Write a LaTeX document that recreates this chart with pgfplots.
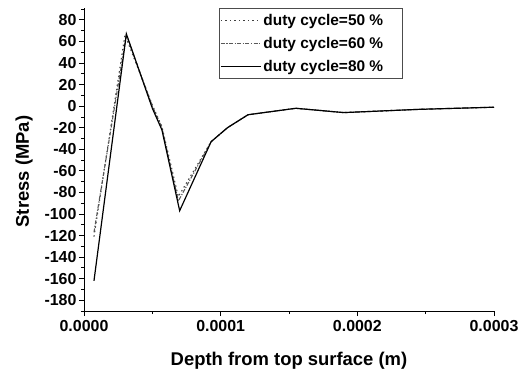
\documentclass[border=0pt]{standalone}
\usepackage{fontspec}
\setmainfont{Liberation Sans}
\usepackage{pgfplots}
\pgfplotsset{compat=1.18}
\begin{document}
\begin{tikzpicture}
\begin{axis}[
  scale only axis,
  width=410bp, height=303bp,
  xmin=0, xmax=0.0003,
  ymin=-190, ymax=91,
  axis lines=left,
  axis line style={-, line width=0.9pt},
  tick align=outside,
  major tick length=5bp,
  minor tick length=3bp,
  tick style={line width=0.8pt, black},
  xtick={0,0.0001,0.0002,0.0003},
  xticklabels={0.0000,0.0001,0.0002,0.0003},
  minor xtick={0.00005,0.00015,0.00025},
  ytick={-180,-160,-140,-120,-100,-80,-60,-40,-20,0,20,40,60,80},
  yticklabels={-180,-160,-140,-120,-100,-80,-60,-40,-20,0,20,40,60,80},
  minor ytick={-190,-170,-150,-130,-110,-90,-70,-50,-30,-10,10,30,50,70,90},
  scaled x ticks=false,
  every tick label/.append style={font=\bfseries\fontsize{16}{18}\selectfont},
  xticklabel style={yshift=-1bp},
  yticklabel style={xshift=1bp},
  xlabel={Depth from top surface (m)},
  ylabel={Stress (MPa)},
  label style={font=\bfseries\fontsize{18.5}{21}\selectfont},
  xlabel style={yshift=-13bp},
  ylabel style={yshift=5bp, xshift=-12bp},
  legend style={at={(0.329,1.0)}, anchor=north west, draw=black!70, line width=0.8pt,
    font=\bfseries\fontsize{15.5}{17}\selectfont, inner xsep=1bp, inner ysep=4bp,
    row sep=6.5bp, cells={anchor=west, text height=11bp, text depth=3bp}},
  legend image code/.code={\draw[#1] (0bp,0bp) -- (40bp,0bp);},
  legend cell align=left,
  clip=false,
]
\addplot[black!75, line width=1.1pt, dash pattern=on 1.5pt off 3pt] coordinates {
 (0.0000073,-121) (0.000030,66) (0.000050,1) (0.000057,-19) (0.000069,-84)
 (0.000093,-33) (0.000105,-20) (0.000120,-8) (0.000155,-2) (0.000190,-6) (0.000245,-3) (0.000300,-1)
};
\addlegendentry{duty cycle=50 \%\hspace*{16bp}}
\addplot[black!65, line width=1.1pt, dash pattern=on 4pt off 1.5pt on 1.2pt off 1.5pt] coordinates {
 (0.0000073,-117) (0.000031,66) (0.000050,0) (0.000057,-20) (0.000069,-88)
 (0.000093,-33) (0.000105,-20) (0.000120,-8) (0.000155,-2) (0.000190,-6) (0.000245,-3) (0.000300,-1)
};
\addlegendentry{duty cycle=60 \%\hspace*{16bp}}
\addplot[black, line width=1.2pt] coordinates {
 (0.0000073,-162) (0.000031,67) (0.000050,-2) (0.000057,-22) (0.000070,-97)
 (0.000093,-33) (0.000105,-20) (0.000120,-8) (0.000155,-2) (0.000190,-6) (0.000245,-3) (0.000300,-1)
};
\addlegendentry{duty cycle=80 \%\hspace*{16bp}}
\coordinate (bl) at (rel axis cs:0,0);
\coordinate (tr) at (rel axis cs:1,1);
\end{axis}
\pgfresetboundingbox
\path ([shift={(-84bp,-62bp)}]bl) rectangle ([shift={(31bp,8bp)}]tr);
\end{tikzpicture}
\end{document}
